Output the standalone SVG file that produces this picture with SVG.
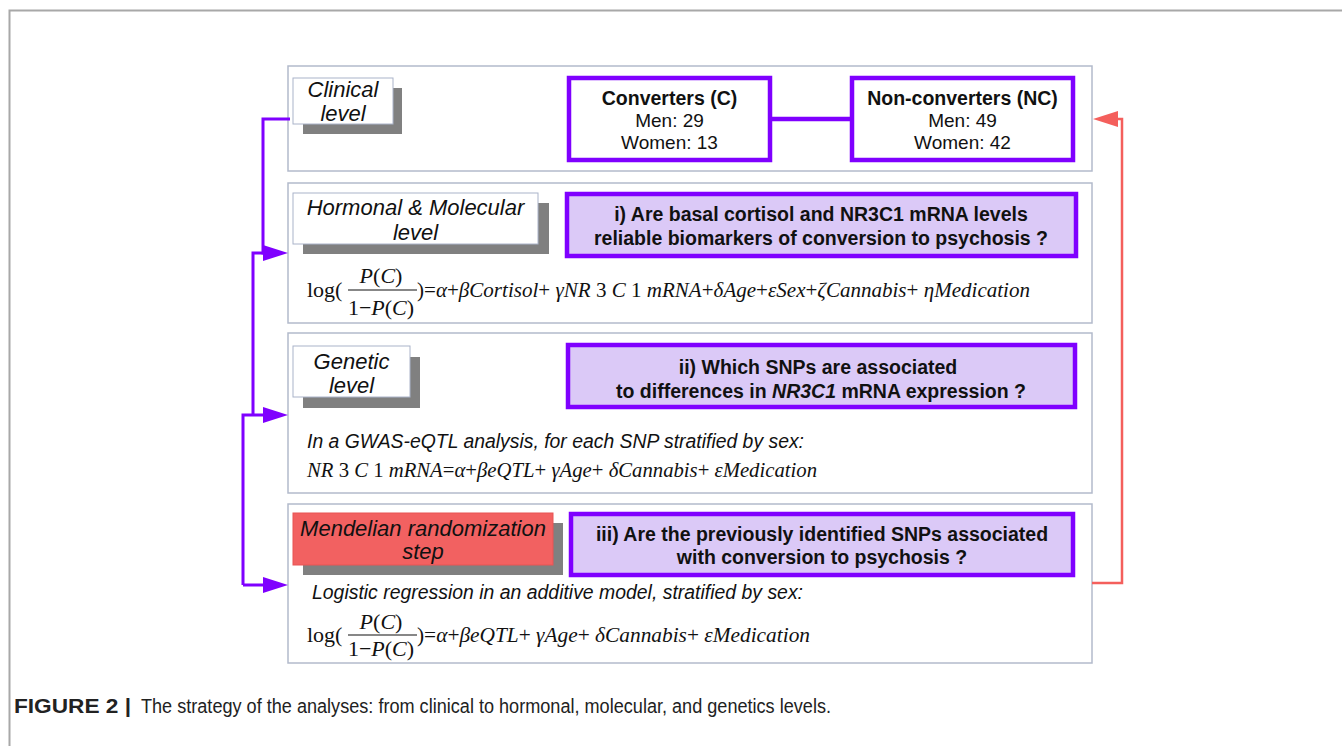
<svg xmlns="http://www.w3.org/2000/svg" width="1342" height="746" viewBox="0 0 1342 746">
<style>
.panel{fill:#fff;stroke:#b3bacb;stroke-width:1.5}
.lbl{fill:#fff;stroke:#aab3c9;stroke-width:1}
.shadow{fill:#808080}
.grp{fill:#fff;stroke:#7f00ff;stroke-width:4.5}
.q{fill:#dbc9f7;stroke:#7f00ff;stroke-width:4.5}
.it{font-family:"Liberation Sans",Arial,sans-serif;font-style:italic;font-size:22px;fill:#111;text-anchor:middle}
.b{font-family:"Liberation Sans",Arial,sans-serif;font-weight:bold;font-size:19.5px;fill:#111;text-anchor:middle}
.r{font-family:"Liberation Sans",Arial,sans-serif;font-size:19px;fill:#111;text-anchor:middle}
.si{font-family:"Liberation Sans",Arial,sans-serif;font-style:italic;font-size:19.5px;fill:#111}
.m{font-family:"Liberation Serif","Times New Roman",serif;font-size:22px;fill:#111}
.mi{font-family:"Liberation Serif","Times New Roman",serif;font-style:italic;font-size:22px;fill:#111}
.n{font-style:normal}
.pl{fill:none;stroke:#7f00ff;stroke-width:3}
.rl{fill:none;stroke:#f45f5c;stroke-width:2.5}
.cap{font-family:"Liberation Sans",Arial,sans-serif;font-size:20px;fill:#222}
</style>
<rect width="1342" height="746" fill="#fff"/>
<path d="M9.5,746 V10.5 H1342" fill="none" stroke="#a8a8a8" stroke-width="2"/>

<g id="panel-clinical">
<rect class="panel" x="288" y="66" width="804" height="105"/>
<rect class="shadow" x="303" y="88" width="99" height="46"/>
<rect class="lbl" x="293" y="78" width="100" height="46"/>
<text class="it" x="343" y="97">Clinical</text>
<text class="it" x="343" y="121">level</text>
</g>
<g id="node-converters">
<rect class="grp" x="569" y="78" width="201" height="82"/>
<text class="b" x="669.5" y="105" font-size="19px">Converters (C)</text>
<text class="r" x="669.5" y="127">Men: 29</text>
<text class="r" x="669.5" y="149">Women: 13</text>
</g>
<g id="node-nonconverters">
<rect class="grp" x="852" y="78" width="221" height="82"/>
<text class="b" x="962.5" y="105" font-size="19px">Non-converters (NC)</text>
<text class="r" x="962.5" y="127">Men: 49</text>
<text class="r" x="962.5" y="149">Women: 42</text>
</g>

<g id="panel-hormonal">
<rect class="panel" x="288" y="183" width="804" height="140"/>
<rect class="shadow" x="303" y="203" width="246" height="51"/>
<rect class="lbl" x="293" y="193" width="245" height="51"/>
<text class="it" x="415.5" y="215">Hormonal &amp; Molecular</text>
<text class="it" x="415.5" y="240">level</text>
<rect class="q" x="567" y="194" width="509" height="62"/>
<text class="b" x="821" y="221">i) Are basal cortisol and NR3C1 mRNA levels</text>
<text class="b" x="821" y="245">reliable biomarkers of conversion to psychosis ?</text>
<text class="m" x="307" y="297">log(</text>
<text class="mi" x="381" y="283" text-anchor="middle">P<tspan class="n">(</tspan>C<tspan class="n">)</tspan></text>
<line x1="348" y1="290" x2="417" y2="290" stroke="#111" stroke-width="1.2"/>
<text class="mi" x="381" y="315" text-anchor="middle"><tspan class="n">1−</tspan>P<tspan class="n">(</tspan>C<tspan class="n">)</tspan></text>
<text class="mi" x="417" y="297" textLength="613" lengthAdjust="spacingAndGlyphs"><tspan class="n">)=</tspan>α<tspan class="n">+</tspan>βCortisol<tspan class="n">+</tspan> γNR <tspan class="n">3</tspan> C <tspan class="n">1</tspan> mRNA<tspan class="n">+</tspan>δAge<tspan class="n">+</tspan>εSex<tspan class="n">+</tspan>ζCannabis<tspan class="n">+</tspan> ηMedication</text>
</g>

<g id="panel-genetic">
<rect class="panel" x="288" y="333" width="804" height="160"/>
<rect class="shadow" x="303" y="357" width="117" height="51"/>
<rect class="lbl" x="293" y="346" width="117" height="51"/>
<text class="it" x="351.5" y="369">Genetic</text>
<text class="it" x="351.5" y="393">level</text>
<rect class="q" x="568" y="345" width="507" height="62"/>
<text class="b" x="818" y="374">ii) Which SNPs are associated</text>
<text class="b" x="821" y="398">to differences in <tspan font-style="italic">NR3C1</tspan> mRNA expression ?</text>
<text class="si" x="307" y="448" textLength="497" lengthAdjust="spacingAndGlyphs">In a GWAS-eQTL analysis, for each SNP stratified by sex:</text>
<text class="mi" x="307" y="477" textLength="510" lengthAdjust="spacingAndGlyphs">NR <tspan class="n">3</tspan> C <tspan class="n">1</tspan> mRNA<tspan class="n">=</tspan>α<tspan class="n">+</tspan>βeQTL<tspan class="n">+</tspan> γAge<tspan class="n">+</tspan> δCannabis<tspan class="n">+</tspan> εMedication</text>
</g>

<g id="panel-mendelian">
<rect class="panel" x="288" y="504" width="804" height="159"/>
<rect class="shadow" x="303" y="523" width="260" height="52"/>
<rect x="293" y="513" width="260" height="52" fill="#f26161" stroke="#e85555" stroke-width="1"/>
<text class="it" x="423" y="536" font-size="22.5">Mendelian randomization</text>
<text class="it" x="423" y="559" font-size="22.5">step</text>
<rect class="q" x="571" y="514" width="502" height="61"/>
<text class="b" x="822" y="541">iii) Are the previously identified SNPs associated</text>
<text class="b" x="822" y="564">with conversion to psychosis ?</text>
<text class="si" x="312" y="599" textLength="491" lengthAdjust="spacingAndGlyphs">Logistic regression in an additive model, stratified by sex:</text>
<text class="m" x="307" y="642">log(</text>
<text class="mi" x="381" y="629" text-anchor="middle">P<tspan class="n">(</tspan>C<tspan class="n">)</tspan></text>
<line x1="348" y1="635" x2="417" y2="635" stroke="#111" stroke-width="1.2"/>
<text class="mi" x="381" y="656" text-anchor="middle"><tspan class="n">1−</tspan>P<tspan class="n">(</tspan>C<tspan class="n">)</tspan></text>
<text class="mi" x="417" y="642" textLength="393" lengthAdjust="spacingAndGlyphs"><tspan class="n">)=</tspan>α<tspan class="n">+</tspan>βeQTL<tspan class="n">+</tspan> γAge<tspan class="n">+</tspan> δCannabis<tspan class="n">+</tspan> εMedication</text>
</g>

<g id="connectors">
<line x1="770" y1="119" x2="852" y2="119" stroke="#7f00ff" stroke-width="4.5"/>
<path class="pl" d="M290,119 H263 V253 H266"/>
<path class="pl" d="M253,415 V253 H266"/>
<path d="M288,253 L263,245 L263,261 Z" fill="#7f00ff"/>
<path class="pl" d="M243,585 V415 H266"/>
<path d="M288,415 L263,407 L263,423 Z" fill="#7f00ff"/>
<path class="pl" d="M243,585 H266"/>
<path d="M288,585 L263,577 L263,593 Z" fill="#7f00ff"/>
<path class="rl" d="M1092,583 H1122 V119 H1115"/>
<path d="M1093,119 L1118,111 L1118,127 Z" fill="#f45f5c"/>
</g>

<text class="cap" y="713"><tspan x="14" font-weight="bold" textLength="117" lengthAdjust="spacingAndGlyphs">FIGURE 2 |</tspan><tspan x="141" textLength="690" lengthAdjust="spacingAndGlyphs">The strategy of the analyses: from clinical to hormonal, molecular, and genetics levels.</tspan></text>
</svg>
